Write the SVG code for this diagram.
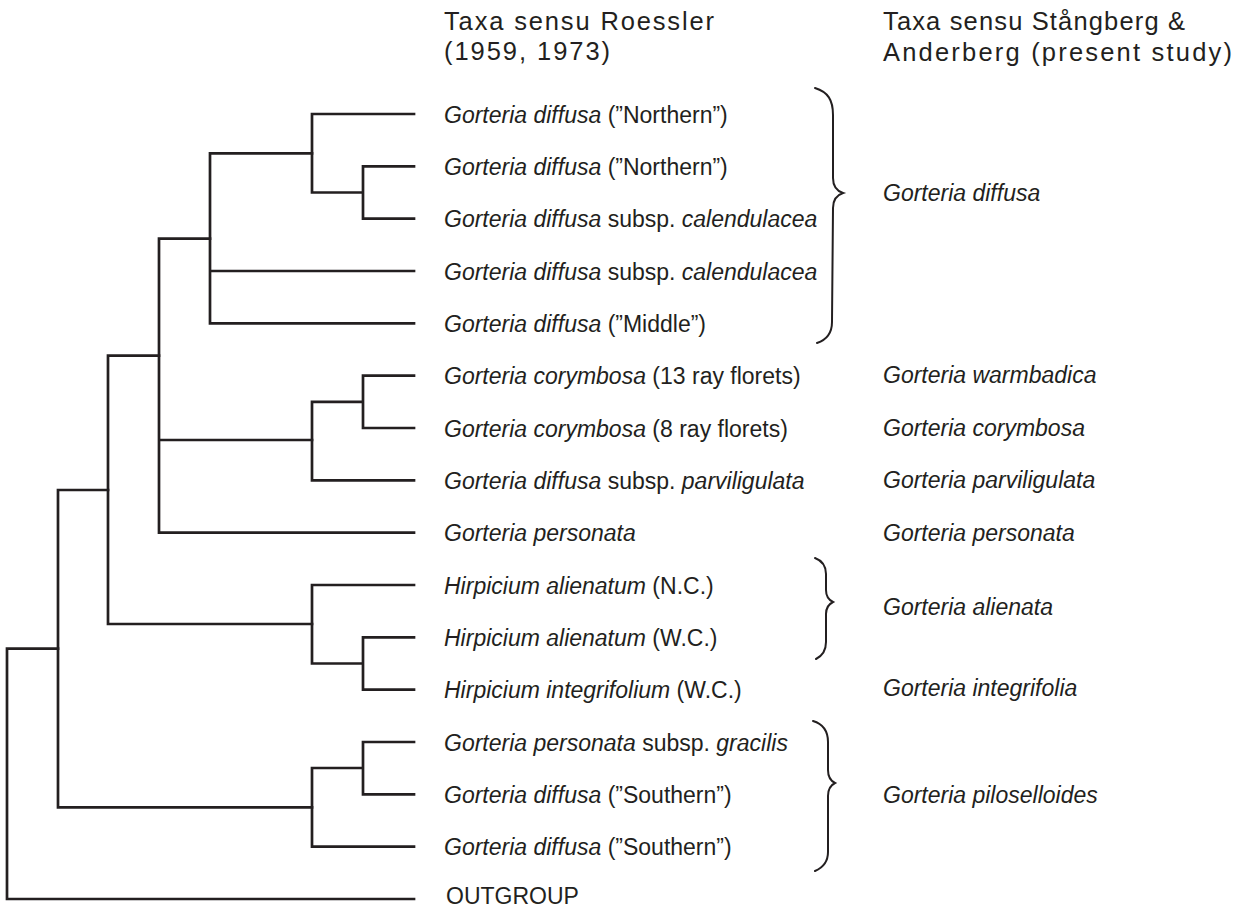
<svg xmlns="http://www.w3.org/2000/svg" width="1234" height="907" viewBox="0 0 1234 907">
<style>
.br{fill:none;stroke:#231f20;stroke-width:2.7;stroke-linecap:square;stroke-linejoin:miter}
.brace{fill:none;stroke:#231f20;stroke-width:2;stroke-linecap:round}
text{font-family:"Liberation Sans",Arial,sans-serif;fill:#231f20}
.lab{font-size:23px}
.it{font-style:italic}
.ttl{font-size:25.5px}
</style>
<rect width="1234" height="907" fill="#ffffff"/>
<g id="headers">
<text class="ttl" x="444" y="30" textLength="270" lengthAdjust="spacing">Taxa sensu Roessler</text>
<text class="ttl" x="444" y="60" textLength="166" lengthAdjust="spacing">(1959, 1973)</text>
<text class="ttl" x="883" y="30" textLength="302" lengthAdjust="spacing">Taxa sensu Stångberg &amp;</text>
<text class="ttl" x="883" y="61" textLength="349" lengthAdjust="spacing">Anderberg (present study)</text>
</g>
<g id="connectors">
<path class="br" d="M414,114 H312 V192.5 H363 M414,166.3 H363 V218.7 H414"/>
<path class="br" d="M312,153.3 H210 V323.3 H414 M210,271 H414"/>
<path class="br" d="M210,238.7 H159 V532.7 H414 M159,440 H312"/>
<path class="br" d="M363,401.8 H312 V480.3 H414 M414,375.7 H363 V428 H414"/>
<path class="br" d="M159,355.7 H108 V624 H312"/>
<path class="br" d="M414,585 H312 V663.5 H363 M414,637.3 H363 V689.7 H414"/>
<path class="br" d="M108,490 H58 V807.3 H312"/>
<path class="br" d="M363,768 H312 V846.7 H414 M414,742 H363 V794.3 H414"/>
<path class="br" d="M58,648.7 H7 V899 H414"/>
</g>
<g id="leaves">
<g id="leaf-1"><text class="lab" x="444" y="122.5"><tspan class="it">Gorteria diffusa</tspan> (”Northern”)</text></g>
<g id="leaf-2"><text class="lab" x="444" y="174.8"><tspan class="it">Gorteria diffusa</tspan> (”Northern”)</text></g>
<g id="leaf-3"><text class="lab" x="444" y="227.2"><tspan class="it">Gorteria diffusa</tspan> subsp. <tspan class="it">calendulacea</tspan></text></g>
<g id="leaf-4"><text class="lab" x="444" y="279.5"><tspan class="it">Gorteria diffusa</tspan> subsp. <tspan class="it">calendulacea</tspan></text></g>
<g id="leaf-5"><text class="lab" x="444" y="331.8"><tspan class="it">Gorteria diffusa</tspan> (”Middle”)</text></g>
<g id="leaf-6"><text class="lab" x="444" y="384.2"><tspan class="it">Gorteria corymbosa</tspan> (13 ray florets)</text></g>
<g id="leaf-7"><text class="lab" x="444" y="436.5"><tspan class="it">Gorteria corymbosa</tspan> (8 ray florets)</text></g>
<g id="leaf-8"><text class="lab" x="444" y="488.8"><tspan class="it">Gorteria diffusa</tspan> subsp. <tspan class="it">parviligulata</tspan></text></g>
<g id="leaf-9"><text class="lab" x="444" y="541.2"><tspan class="it">Gorteria personata</tspan></text></g>
<g id="leaf-10"><text class="lab" x="444" y="593.5"><tspan class="it">Hirpicium alienatum</tspan> (N.C.)</text></g>
<g id="leaf-11"><text class="lab" x="444" y="645.8"><tspan class="it">Hirpicium alienatum</tspan> (W.C.)</text></g>
<g id="leaf-12"><text class="lab" x="444" y="698.2"><tspan class="it">Hirpicium integrifolium</tspan> (W.C.)</text></g>
<g id="leaf-13"><text class="lab" x="444" y="750.5"><tspan class="it">Gorteria personata</tspan> subsp. <tspan class="it">gracilis</tspan></text></g>
<g id="leaf-14"><text class="lab" x="444" y="802.8"><tspan class="it">Gorteria diffusa</tspan> (”Southern”)</text></g>
<g id="leaf-15"><text class="lab" x="444" y="855.2"><tspan class="it">Gorteria diffusa</tspan> (”Southern”)</text></g>
<g id="leaf-16"><text class="lab" x="446" y="904">OUTGROUP</text></g>
</g>
<g id="braces">
<path class="brace" d="M815,88 C828,92 833,100 833,115 L833,178 C833,186 837,191 843,193 C837,195 833,200 833,208 L832,322 C832,333 826,340 817,343"/>
<path class="brace" d="M815,558 C823,561 826,566 826,574 L826,590 C826,597 829,600 833,602 C829,604 826,607 826,614 L826,642 C826,651 822,656 816,659"/>
<path class="brace" d="M813,721 C823,724 828,731 828,742 L828,770 C828,777 831,781 835,783 C831,785 828,789 828,796 L828,852 C828,862 822,868 815,871"/>
</g>
<g id="new-taxa">
<g id="taxon-diffusa"><text class="lab it" x="883" y="201">Gorteria diffusa</text></g>
<g id="taxon-warmbadica"><text class="lab it" x="883" y="383">Gorteria warmbadica</text></g>
<g id="taxon-corymbosa"><text class="lab it" x="883" y="435.5">Gorteria corymbosa</text></g>
<g id="taxon-parviligulata"><text class="lab it" x="883" y="488">Gorteria parviligulata</text></g>
<g id="taxon-personata"><text class="lab it" x="883" y="540.5">Gorteria personata</text></g>
<g id="taxon-alienata"><text class="lab it" x="883" y="615">Gorteria alienata</text></g>
<g id="taxon-integrifolia"><text class="lab it" x="883" y="696">Gorteria integrifolia</text></g>
<g id="taxon-piloselloides"><text class="lab it" x="883" y="803">Gorteria piloselloides</text></g>
</g>
</svg>
